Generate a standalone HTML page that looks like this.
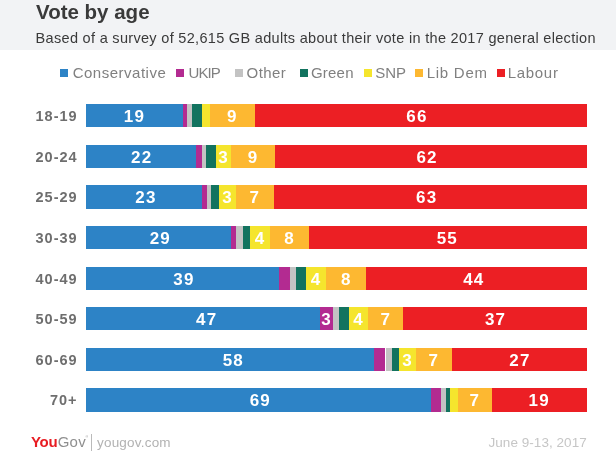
<!DOCTYPE html>
<html><head><meta charset="utf-8"><title>Vote by age</title>
<style>
html,body{margin:0;padding:0;background:#fff;}
body{width:616px;height:464px;position:relative;overflow:hidden;font-family:"Liberation Sans",sans-serif;}
.hdr{position:absolute;left:0;top:0;width:616px;height:50.2px;background:#f2f3f5;}
.title{position:absolute;left:36px;top:-0.5px;font-size:20.5px;line-height:24px;font-weight:bold;color:#3a3a3a;white-space:nowrap;letter-spacing:0px;}
.sub{position:absolute;left:35.6px;top:29.2px;font-size:14.5px;line-height:18px;color:#3a3a3a;white-space:nowrap;letter-spacing:0.31px;}
.sq{position:absolute;top:68.5px;width:8px;height:8px;margin-left:-0.3px;}
.lt{position:absolute;top:62.5px;font-size:15px;line-height:20px;color:#808080;white-space:nowrap;}
.lab{position:absolute;left:0;width:77.6px;height:23.3px;line-height:24.7px;text-align:right;font-size:14.5px;font-weight:bold;color:#6e6e6e;letter-spacing:1px;white-space:nowrap;}
.seg{position:absolute;height:23.3px;line-height:26px;text-align:center;color:#fff;font-weight:bold;font-size:17px;white-space:nowrap;letter-spacing:1.2px;}
.x{font-size:0.9em;letter-spacing:0.12em;margin-left:0.03em;line-height:1;}
.d{position:relative;top:0.16em;}
.v{position:relative;}
.date .x{letter-spacing:0;margin-left:0;font-size:0.92em;}
.p{font-size:0.6em;position:relative;top:-0.15em;line-height:1;}
.you{position:absolute;left:31px;top:432.7px;font-size:15px;line-height:18px;font-weight:bold;color:#e81c22;white-space:nowrap;letter-spacing:-0.3px;}
.you span{color:#8f8f8f;font-weight:normal;letter-spacing:0.2px;margin-left:0.4px;}
.you sup{position:absolute;left:54.6px;top:-0.5px;font-size:3.5px;font-weight:normal;color:#999;letter-spacing:0;line-height:10px;}
.div{position:absolute;left:91.3px;top:433.7px;width:1px;height:17px;background:#bababa;}
.url{position:absolute;left:97px;top:433.8px;font-size:13.5px;line-height:18px;color:#b2b2b2;white-space:nowrap;letter-spacing:0.2px;}
.date{position:absolute;right:29.2px;letter-spacing:0.05px;top:433.6px;font-size:13.5px;line-height:18px;color:#c6c6c6;white-space:nowrap;}
</style></head><body>
<div class="hdr"></div>
<div class="title">Vote by age</div>
<div class="sub">Based of a survey of 52,615 GB adults about their vote in the 2017 general election</div>
<div class="sq" style="left:60.7px;background:#2d83c6"></div><div class="lt" style="left:72.7px;letter-spacing:0.5px">Conservative</div>
<div class="sq" style="left:176.0px;background:#b32b91"></div><div class="lt" style="left:188.5px;letter-spacing:-0.9px">UKIP</div>
<div class="sq" style="left:234.9px;background:#c3c3c3"></div><div class="lt" style="left:246.6px;letter-spacing:0.4px">Other</div>
<div class="sq" style="left:299.9px;background:#12735f"></div><div class="lt" style="left:311.0px;letter-spacing:0.2px">Green</div>
<div class="sq" style="left:363.8px;background:#f5e52d"></div><div class="lt" style="left:375.2px;letter-spacing:0px">SNP</div>
<div class="sq" style="left:415.6px;background:#fdb831"></div><div class="lt" style="left:426.7px;letter-spacing:0.75px">Lib Dem</div>
<div class="sq" style="left:496.8px;background:#ec1f24"></div><div class="lt" style="left:507.7px;letter-spacing:0.7px">Labour</div>
<div class="lab" style="top:104.00px">18-19</div>
<div class="seg" style="left:86.0px;top:104.00px;width:97.0px;background:#2d83c6"><span class="v" style="left:0.0px">19</span></div>
<div class="seg" style="left:183.0px;top:104.00px;width:3.7px;background:#b32b91"></div>
<div class="seg" style="left:186.7px;top:104.00px;width:4.9px;background:#c3c3c3"></div>
<div class="seg" style="left:191.6px;top:104.00px;width:10.2px;background:#12735f"></div>
<div class="seg" style="left:201.8px;top:104.00px;width:8.1px;background:#f5e52d"></div>
<div class="seg" style="left:209.9px;top:104.00px;width:45.1px;background:#fdb831"><span class="v" style="left:0.0px">9</span></div>
<div class="seg" style="left:255.0px;top:104.00px;width:332.0px;background:#ec1f24"><span class="v" style="left:-4.0px">66</span></div>
<div class="lab" style="top:144.63px">20-24</div>
<div class="seg" style="left:86.0px;top:144.63px;width:110.4px;background:#2d83c6"><span class="v" style="left:0.5px">22</span></div>
<div class="seg" style="left:196.4px;top:144.63px;width:5.5px;background:#b32b91"></div>
<div class="seg" style="left:201.9px;top:144.63px;width:3.9px;background:#c3c3c3"></div>
<div class="seg" style="left:205.8px;top:144.63px;width:10.4px;background:#12735f"></div>
<div class="seg" style="left:216.2px;top:144.63px;width:14.9px;background:#f5e52d"><span class="v" style="left:0.0px">3</span></div>
<div class="seg" style="left:231.1px;top:144.63px;width:44.2px;background:#fdb831"><span class="v" style="left:0.0px">9</span></div>
<div class="seg" style="left:275.3px;top:144.63px;width:311.7px;background:#ec1f24"><span class="v" style="left:-4.1px">62</span></div>
<div class="lab" style="top:185.26px">25-29</div>
<div class="seg" style="left:86.0px;top:185.26px;width:116.2px;background:#2d83c6"><span class="v" style="left:1.9px">23</span></div>
<div class="seg" style="left:202.2px;top:185.26px;width:4.7px;background:#b32b91"></div>
<div class="seg" style="left:206.9px;top:185.26px;width:4.1px;background:#c3c3c3"></div>
<div class="seg" style="left:211.0px;top:185.26px;width:8.1px;background:#12735f"></div>
<div class="seg" style="left:219.1px;top:185.26px;width:17.2px;background:#f5e52d"><span class="v" style="left:0.0px">3</span></div>
<div class="seg" style="left:236.3px;top:185.26px;width:37.3px;background:#fdb831"><span class="v" style="left:0.0px">7</span></div>
<div class="seg" style="left:273.6px;top:185.26px;width:313.4px;background:#ec1f24"><span class="v" style="left:-3.5999999999999996px">63</span></div>
<div class="lab" style="top:225.89px">30-39</div>
<div class="seg" style="left:86.0px;top:225.89px;width:145.4px;background:#2d83c6"><span class="v" style="left:1.6px">29</span></div>
<div class="seg" style="left:231.4px;top:225.89px;width:4.5px;background:#b32b91"></div>
<div class="seg" style="left:235.9px;top:225.89px;width:6.8px;background:#c3c3c3"></div>
<div class="seg" style="left:242.7px;top:225.89px;width:7.5px;background:#12735f"></div>
<div class="seg" style="left:250.2px;top:225.89px;width:19.8px;background:#f5e52d"><span class="v" style="left:0.0px">4</span></div>
<div class="seg" style="left:270.0px;top:225.89px;width:39.0px;background:#fdb831"><span class="v" style="left:0.0px">8</span></div>
<div class="seg" style="left:309.0px;top:225.89px;width:278.0px;background:#ec1f24"><span class="v" style="left:-0.7px">55</span></div>
<div class="lab" style="top:266.52px">40-49</div>
<div class="seg" style="left:86.0px;top:266.52px;width:192.8px;background:#2d83c6"><span class="v" style="left:1.6px">39</span></div>
<div class="seg" style="left:278.8px;top:266.52px;width:11.3px;background:#b32b91"></div>
<div class="seg" style="left:290.1px;top:266.52px;width:5.9px;background:#c3c3c3"></div>
<div class="seg" style="left:296.0px;top:266.52px;width:10.0px;background:#12735f"></div>
<div class="seg" style="left:306.0px;top:266.52px;width:20.2px;background:#f5e52d"><span class="v" style="left:0.0px">4</span></div>
<div class="seg" style="left:326.2px;top:266.52px;width:40.2px;background:#fdb831"><span class="v" style="left:0.0px">8</span></div>
<div class="seg" style="left:366.4px;top:266.52px;width:220.6px;background:#ec1f24"><span class="v" style="left:-2.9px">44</span></div>
<div class="lab" style="top:307.15px">50-59</div>
<div class="seg" style="left:86.0px;top:307.15px;width:234.4px;background:#2d83c6"><span class="v" style="left:3.5px">47</span></div>
<div class="seg" style="left:320.4px;top:307.15px;width:12.6px;background:#b32b91"><span class="v" style="left:0.0px">3</span></div>
<div class="seg" style="left:333.0px;top:307.15px;width:6.2px;background:#c3c3c3"></div>
<div class="seg" style="left:339.2px;top:307.15px;width:9.8px;background:#12735f"></div>
<div class="seg" style="left:349.0px;top:307.15px;width:19.4px;background:#f5e52d"><span class="v" style="left:0.0px">4</span></div>
<div class="seg" style="left:368.4px;top:307.15px;width:34.8px;background:#fdb831"><span class="v" style="left:0.0px">7</span></div>
<div class="seg" style="left:403.2px;top:307.15px;width:183.8px;background:#ec1f24"><span class="v" style="left:0.5px">37</span></div>
<div class="lab" style="top:347.78px">60-69</div>
<div class="seg" style="left:86.0px;top:347.78px;width:288.4px;background:#2d83c6"><span class="v" style="left:3.1px">58</span></div>
<div class="seg" style="left:374.4px;top:347.78px;width:11.1px;background:#b32b91"></div>
<div class="seg" style="left:385.5px;top:347.78px;width:6.6px;background:#c3c3c3"></div>
<div class="seg" style="left:392.1px;top:347.78px;width:7.3px;background:#12735f"></div>
<div class="seg" style="left:399.4px;top:347.78px;width:16.2px;background:#f5e52d"><span class="v" style="left:0.0px">3</span></div>
<div class="seg" style="left:415.6px;top:347.78px;width:36.4px;background:#fdb831"><span class="v" style="left:0.0px">7</span></div>
<div class="seg" style="left:452.0px;top:347.78px;width:135.0px;background:#ec1f24"><span class="v" style="left:0.5px">27</span></div>
<div class="lab" style="top:388.41px">70+</div>
<div class="seg" style="left:86.0px;top:388.41px;width:345.1px;background:#2d83c6"><span class="v" style="left:1.8px">69</span></div>
<div class="seg" style="left:431.1px;top:388.41px;width:10.1px;background:#b32b91"></div>
<div class="seg" style="left:441.2px;top:388.41px;width:4.8px;background:#c3c3c3"></div>
<div class="seg" style="left:446.0px;top:388.41px;width:4.3px;background:#12735f"></div>
<div class="seg" style="left:450.3px;top:388.41px;width:7.7px;background:#f5e52d"></div>
<div class="seg" style="left:458.0px;top:388.41px;width:33.5px;background:#fdb831"><span class="v" style="left:0.0px">7</span></div>
<div class="seg" style="left:491.5px;top:388.41px;width:95.5px;background:#ec1f24"><span class="v" style="left:0.0px">19</span></div>
<div class="you">You<span>Gov</span><sup>®</sup></div>
<div class="div"></div>
<div class="url">yougov.com</div>
<div class="date">June 9-13, 2017</div>
</body></html>
